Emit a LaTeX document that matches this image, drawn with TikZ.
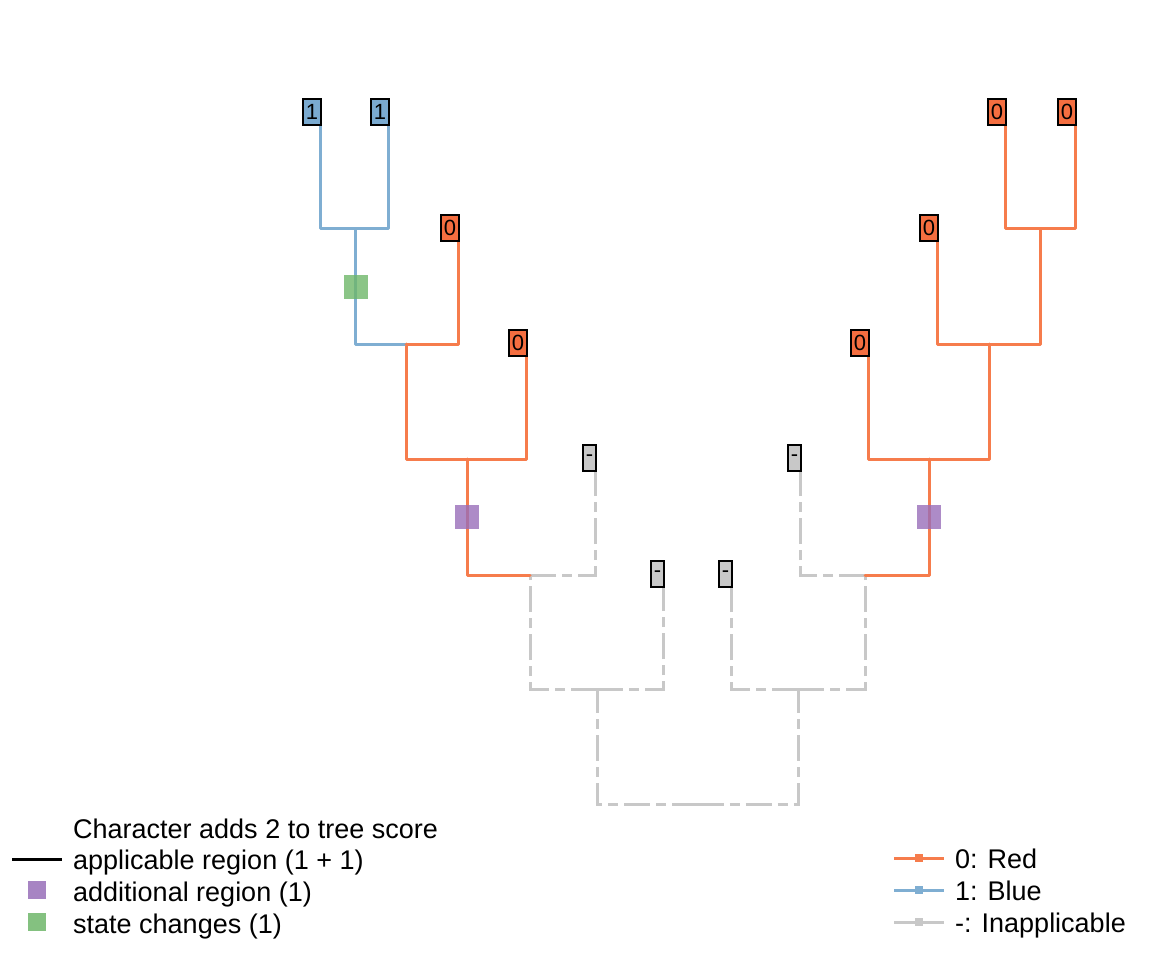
\documentclass[tikz,border=0pt]{standalone}
\usepackage{fontspec}
\setmainfont{Liberation Sans}
\definecolor{redline}{RGB}{246,124,76}
\definecolor{redbox}{RGB}{244,110,64}
\definecolor{blueline}{RGB}{127,174,210}
\definecolor{bluebox}{RGB}{122,170,208}
\definecolor{grayline}{RGB}{200,200,200}
\definecolor{graybox}{RGB}{200,200,200}
\definecolor{purplesq}{RGB}{152,110,185}
\definecolor{greensq}{RGB}{110,182,105}
\begin{document}
\begin{tikzpicture}[x=1pt,y=-1pt,
  edge/.style={line width=3pt,line cap=round,line join=round},
  redE/.style={edge,draw=redline},
  blueE/.style={edge,draw=blueline},
  grayE/.style={line width=3pt,line cap=butt,line join=miter,draw=grayline,dash pattern=on 26pt off 6pt on 10pt off 6pt},
  tiplab/.style={draw=black,line width=1.8pt,anchor=east,xshift=2pt,yshift=1pt,
    inner xsep=3pt,inner ysep=0pt,minimum height=26pt,
    font=\fontsize{22}{26}\selectfont},
  sq/.style={minimum size=24pt,inner sep=0pt,fill opacity=0.8},
  legtext/.style={anchor=base west,inner sep=0pt,font=\fontsize{27}{32}\selectfont},
  legsq/.style={minimum size=18pt,inner sep=0pt}]
\useasboundingbox (0,0) rectangle (1152,960);
% coordinates
\coordinate (tA) at (320,113);
\coordinate (tB) at (388,113);
\coordinate (nAB) at (355,229);
\coordinate (tC) at (458,229);
\coordinate (nABC) at (406,344);
\coordinate (tD) at (526,344);
\coordinate (nABCD) at (467,459);
\coordinate (tE) at (595,459);
\coordinate (n5) at (530,575);
\coordinate (tF) at (663,575);
\coordinate (n6) at (597,689);
\coordinate (root) at (697.5,804);
\coordinate (tG) at (731,575);
\coordinate (n7) at (798,689);
\coordinate (tH) at (800,459);
\coordinate (n8) at (865,575);
\coordinate (n9) at (929,459);
\coordinate (tI) at (868,344);
\coordinate (n10) at (989,344);
\coordinate (tJ) at (937,229);
\coordinate (n11) at (1040,229);
\coordinate (tK) at (1005,113);
\coordinate (tL) at (1075,113);
% edges
\draw[grayE] (root) -| (n6);
\draw[grayE] (root) -| (n7);
\draw[grayE] (n6) -| (n5);
\draw[grayE] (n6) -| (tF);
\draw[grayE] (n5) -| (tE);
\draw[grayE] (n7) -| (tG);
\draw[grayE] (n7) -| (n8);
\draw[grayE] (n8) -| (tH);
\draw[redE] (n5) -| (nABCD);
\draw[redE] (nABCD) -| (nABC);
\draw[redE] (nABCD) -| (tD);
\draw[blueE] (nABC) -| (nAB);
\draw[redE] (nABC) -| (tC);
\draw[blueE] (nAB) -| (tA);
\draw[blueE] (nAB) -| (tB);
\draw[redE] (n8) -| (n9);
\draw[redE] (n9) -| (tI);
\draw[redE] (n9) -| (n10);
\draw[redE] (n10) -| (tJ);
\draw[redE] (n10) -| (n11);
\draw[redE] (n11) -| (tK);
\draw[redE] (n11) -| (tL);
% squares
\node[sq,fill=greensq] (sg) at (355.5,287) {};
\node[sq,fill=purplesq] (sp1) at (467,517) {};
\node[sq,fill=purplesq] (sp2) at (929,517) {};
% tip labels
\node[tiplab,fill=bluebox] (lA) at (tA) {1};
\node[tiplab,fill=bluebox] (lB) at (tB) {1};
\node[tiplab,fill=redbox] (lC) at (tC) {0};
\node[tiplab,fill=redbox] (lD) at (tD) {0};
\node[tiplab,fill=graybox] (lE) at (tE) {-};
\node[tiplab,fill=graybox] (lF) at (tF) {-};
\node[tiplab,fill=graybox] (lG) at (tG) {-};
\node[tiplab,fill=graybox] (lH) at (tH) {-};
\node[tiplab,fill=redbox] (lI) at (tI) {0};
\node[tiplab,fill=redbox] (lJ) at (tJ) {0};
\node[tiplab,fill=redbox] (lK) at (tK) {0};
\node[tiplab,fill=redbox] (lL) at (tL) {0};
% left legend
\node[legtext] (lt0) at (73,838) {Character adds 2 to tree score};
\coordinate (lla) at (12,859);
\coordinate (llb) at (62,859);
\draw[line width=3pt] (lla) -- (llb);
\node[legtext] (lt1) at (73,869) {applicable region (1 + 1)};
\node[legsq,fill=purplesq!85] (lsp) at (37,890) {};
\node[legtext] (lt2) at (73,901) {additional region (1)};
\node[legsq,fill=greensq!85] (lsg) at (37,922) {};
\node[legtext] (lt3) at (73,933) {state changes (1)};
% right legend
\coordinate (r1a) at (894,858);
\coordinate (r1b) at (944,858);
\draw[line width=3pt,redline] (r1a) -- (r1b);
\node[minimum size=8pt,inner sep=0pt,fill=redline] (r1m) at (919,858) {};
\node[legtext] (rt1) at (955,868) {0: Red};
\coordinate (r2a) at (894,890);
\coordinate (r2b) at (944,890);
\draw[line width=3pt,blueline] (r2a) -- (r2b);
\node[minimum size=8pt,inner sep=0pt,fill=blueline] (r2m) at (919,890) {};
\node[legtext] (rt2) at (955,900) {1: Blue};
\coordinate (r3a) at (894,922);
\coordinate (r3b) at (944,922);
\draw[line width=3pt,grayline] (r3a) -- (r3b);
\node[minimum size=8pt,inner sep=0pt,fill=grayline] (r3m) at (919,922) {};
\node[legtext] (rt3) at (955,932) {-: Inapplicable};
\end{tikzpicture}
\end{document}
